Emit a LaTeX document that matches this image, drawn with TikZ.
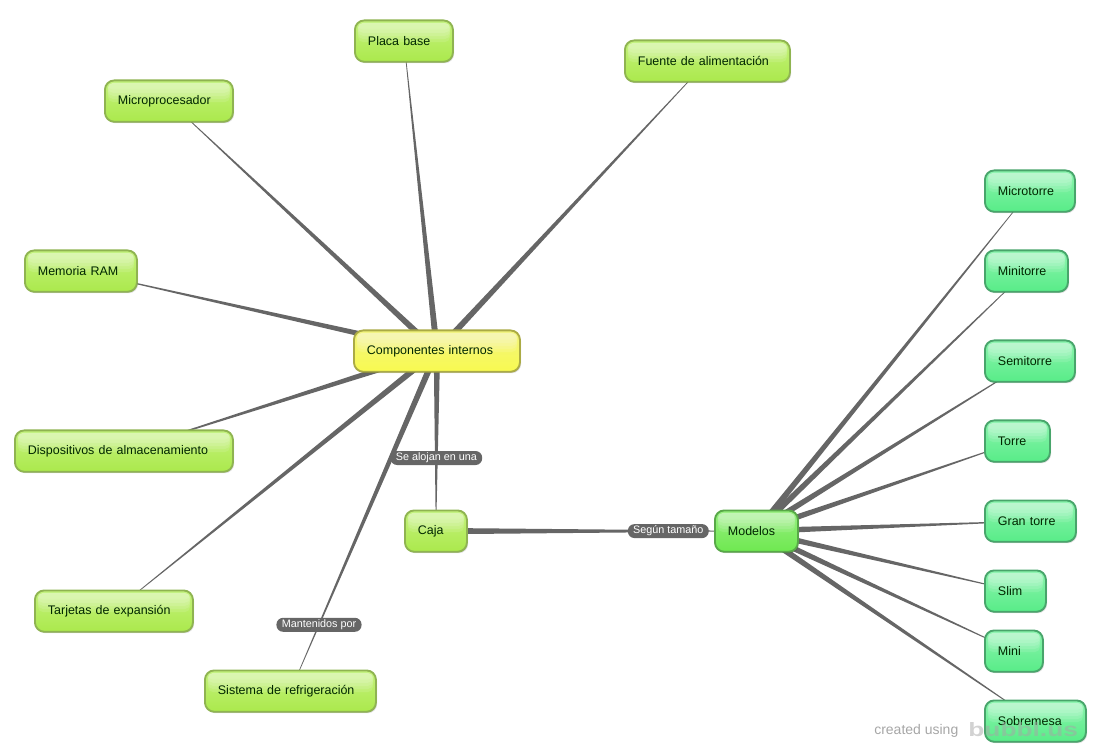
\documentclass[tikz,border=0pt]{standalone}
\usepackage{fontspec}
\setmainfont{Liberation Sans}
\usetikzlibrary{calc,backgrounds,shadows}

\definecolor{limeline}{HTML}{8FB451}
\definecolor{limetop}{HTML}{C4F27C}
\definecolor{limelow}{HTML}{ABE94C}
\definecolor{mintline}{HTML}{48A56B}
\definecolor{minttop}{HTML}{8CF4AE}
\definecolor{mintlow}{HTML}{58EC88}
\definecolor{leafline}{HTML}{58A848}
\definecolor{leaftop}{HTML}{98F080}
\definecolor{leaflow}{HTML}{6EE850}
\definecolor{sunline}{HTML}{ABAB45}
\definecolor{suntop}{HTML}{F2F47E}
\definecolor{sunlow}{HTML}{F8FA50}
\definecolor{linkgrey}{HTML}{666666}

\tikzset{
  mapbox/.style={anchor=north west,rounded corners=7pt,line width=1.4pt,
    minimum height=31pt,inner xsep=9.75pt,inner ysep=0pt,align=left,
    font=\fontsize{9.35}{11}\selectfont,text=black!85!green,
    drop shadow={shadow xshift=0.9pt,shadow yshift=-1.1pt,opacity=0.12,fill=black},
    drop shadow={shadow xshift=0.4pt,shadow yshift=-0.6pt,opacity=0.22,fill=black},
    path picture={
      \foreach \gl in {0.45,0.6,0.75,0.9,1.05} {
        \fill[white,fill opacity=0.11,rounded corners=4pt]
          ($(path picture bounding box.north west)+(2.2pt,-1.8pt)$) rectangle
          ($(path picture bounding box.north east)!\gl!(path picture bounding box.east)+(-2.2pt,0pt)$);}}},
  limebox/.style={mapbox,draw=limeline,top color=limetop,bottom color=limelow},
  mintbox/.style={mapbox,draw=mintline,top color=minttop,bottom color=mintlow},
  leafbox/.style={mapbox,draw=leafline,top color=leaftop,bottom color=leaflow},
  sunbox/.style={mapbox,draw=sunline,top color=suntop,bottom color=sunlow},
  linklabel/.style={fill=linkgrey,text=white,rounded corners=5pt,inner xsep=4pt,inner ysep=0pt,
    minimum height=10.5pt,font=\fontsize{8.1}{9}\selectfont},
  stamp/.style={anchor=base west,inner sep=0pt,text=black!35},
}

% tapered link, wide at the parent
\newcommand{\taperlink}[2]{%
  \fill[linkgrey] ($(#1)!2.4pt!90:(#2)$) -- ($(#1)!2.4pt!-90:(#2)$)
    -- ($(#2)!0.12pt!90:(#1)$) -- ($(#2)!0.12pt!-90:(#1)$) -- cycle;}

\begin{document}
\begin{tikzpicture}[x=0.75pt,y=0.75pt,yscale=-1,xscale=1]
\useasboundingbox (0,0) rectangle (1097,752);

\begin{scope}[shift={(-1,-0.5)}]
% Parent nodes
\node [sunbox,text width=105pt] (comp) at (354,330) {Componentes internos};
\node [limebox,text width=27pt] (caja) at (405,510) {Caja};
\node [leafbox,text width=42.75pt] (modelos) at (715,510) {Modelos};

% Child nodes
\node [limebox,text width=54pt] (placa) at (355,20) {Placa base};
\node [limebox,text width=104.25pt] (fuente) at (625,40) {Fuente de alimentación};
\node [limebox,text width=76.5pt] (micro) at (105,80) {Microprocesador};
\node [limebox,text width=64.5pt] (ram) at (25,250) {Memoria RAM};
\node [limebox,text width=144pt] (disp) at (15,430) {Dispositivos de almacenamiento};
\node [limebox,text width=99pt] (tarj) at (35,590) {Tarjetas de expansión};
\node [limebox,text width=108.75pt] (sist) at (205,670) {Sistema de refrigeración};

\node [mintbox,text width=48pt] (microt) at (985,170) {Microtorre};
\node [mintbox,text width=42.75pt] (minit) at (985,250) {Minitorre};
\node [mintbox,text width=48pt] (semit) at (985,340) {Semitorre};
\node [mintbox,text width=29.25pt] (torre) at (985,420) {Torre};
\node [mintbox,text width=48.75pt] (grant) at (985,500) {Gran torre};
\node [mintbox,text width=26.25pt] (slim) at (985,570) {Slim};
\node [mintbox,text width=24pt] (mini) at (985,630) {Mini};
\node [mintbox,text width=56.25pt] (sobre) at (985,700) {Sobremesa};
\end{scope}

% Links
\begin{scope}[on background layer]
\foreach \child in {placa,fuente,micro,ram,disp,tarj,sist,caja} {\taperlink{comp}{\child}}
\foreach \child in {microt,minit,semit,torre,grant,slim,mini,sobre} {\taperlink{modelos}{\child}}
\taperlink{caja}{modelos}
\end{scope}

% Link labels
\node [linklabel] (alojan) at ($(comp)!0.594!(caja)$) {Se alojan en una};
\node [linklabel] (mant) at ($(comp)!0.805!(sist)$) {Mantenidos por};
\node [linklabel] (segun) at ($(caja)!0.725!(modelos)$) {Según tamaño};

% Text Node
\node [stamp,font=\fontsize{10.5}{12}\selectfont] (created) at (874,734) {created using};
\node [stamp,opacity=0.5,xscale=1.36,font=\bfseries\fontsize{14.5}{16}\selectfont] (bubbl) at (968,736) {bubbl.us};

\end{tikzpicture}
\end{document}
